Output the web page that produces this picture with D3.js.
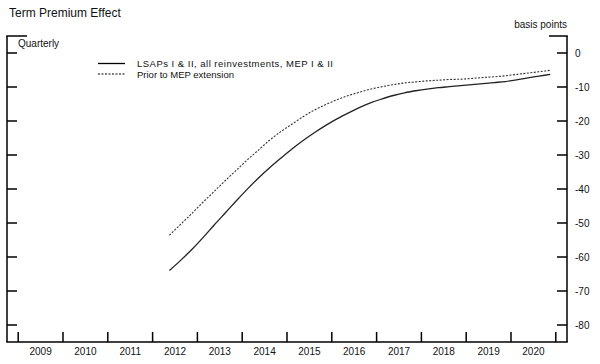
<!DOCTYPE html>
<html>
<head>
<meta charset="utf-8">
<script src="https://cdn.jsdelivr.net/npm/d3@7"></script>
<style>
    body { margin: 0; background: #fff; }
    text { font-family: "Liberation Sans", Arial, sans-serif; fill: #111; }
</style>
</head>
<body>
<script>
// quarterly dates plotted at mid-quarter, 2012Q2 to 2020Q4
var quarters = [
    2012.375, 2012.625, 2012.875,
    2013.125, 2013.375, 2013.625, 2013.875,
    2014.125, 2014.375, 2014.625, 2014.875,
    2015.125, 2015.375, 2015.625, 2015.875,
    2016.125, 2016.375, 2016.625, 2016.875,
    2017.125, 2017.375, 2017.625, 2017.875,
    2018.125, 2018.375, 2018.625, 2018.875,
    2019.125, 2019.375, 2019.625, 2019.875,
    2020.125, 2020.375, 2020.625, 2020.875
]
// LSAPs I & II, all reinvestments, MEP I & II
var lsapValues = [
    -64.0, -61.0, -57.8,
    -54.3, -50.6, -47.0, -43.4,
    -39.9, -36.6, -33.6, -30.8,
    -28.1, -25.6, -23.3, -21.2,
    -19.3, -17.6, -16.0, -14.6,
    -13.5, -12.5, -11.7, -11.1,
    -10.6, -10.2, -9.9, -9.6,
    -9.3, -9.0, -8.7, -8.4,
    -7.9, -7.3, -6.8, -6.3
]
// Prior to MEP extension
var priorValues = [
    -53.6, -50.4, -47.2,
    -43.9, -40.7, -37.5, -34.4,
    -31.3, -28.4, -25.5, -23.0,
    -20.8, -18.6, -16.7, -15.1,
    -13.7, -12.5, -11.5, -10.6,
    -9.9, -9.3, -8.8, -8.5,
    -8.2, -8.0, -7.8, -7.7,
    -7.5, -7.2, -7.0, -6.7,
    -6.3, -5.9, -5.5, -5.1
]
var yearLabels = [2009, 2010, 2011, 2012, 2013, 2014, 2015, 2016, 2017, 2018, 2019, 2020]
var yTicks = [0, -10, -20, -30, -40, -50, -60, -70, -80]
var seriesNames = ['LSAPs I & II, all reinvestments, MEP I & II', 'Prior to MEP extension']

function main() {
    var svgWidth = 600, svgHeight = 364
    var left = 7, right = 567, top = 36, bottom = 342

    var svg = d3.select('body').append('svg')
                .attr('width', svgWidth)
                .attr('height', svgHeight)

    var xScale = d3.scaleLinear().domain([2008.75, 2021.25]).range([left, right])
    var yScale = d3.scaleLinear().domain([5, -85]).range([top, bottom])

    // title and notes
    svg.append('text').attr('x', 9).attr('y', 17).attr('font-size', '12px')
        .text('Term Premium Effect')
    svg.append('text').attr('x', 18).attr('y', 47).attr('font-size', '10px')
        .text('Quarterly')
    svg.append('text').attr('x', right).attr('y', 28).attr('font-size', '10px')
        .attr('text-anchor', 'end')
        .text('basis points')

    var frame = svg.append('g').attr('stroke', '#000').attr('stroke-width', 1.5)
    // left, right, bottom edges and the short top corners
    frame.append('line').attr('x1', left).attr('x2', left).attr('y1', top).attr('y2', bottom)
    frame.append('line').attr('x1', right).attr('x2', right).attr('y1', top).attr('y2', bottom)
    frame.append('line').attr('x1', left - 0.75).attr('x2', right + 0.75).attr('y1', bottom).attr('y2', bottom)
    frame.append('line').attr('x1', left - 0.75).attr('x2', left + 20).attr('y1', top).attr('y2', top)
    frame.append('line').attr('x1', right - 18).attr('x2', right + 0.75).attr('y1', top).attr('y2', top)

    // y ticks on both sides, pointing inward
    yTicks.forEach(function(v) {
        frame.append('line').attr('x1', left).attr('x2', left + 10)
            .attr('y1', yScale(v)).attr('y2', yScale(v))
        frame.append('line').attr('x1', right - 10).attr('x2', right)
            .attr('y1', yScale(v)).attr('y2', yScale(v))
        svg.append('text').attr('x', right + 8).attr('y', yScale(v) + 3.5)
            .attr('font-size', '10px')
            .text(v)
    })

    // x ticks at year boundaries, labels centred in the year
    d3.range(2009, 2022).forEach(function(yr) {
        frame.append('line').attr('x1', xScale(yr)).attr('x2', xScale(yr))
            .attr('y1', bottom - 10).attr('y2', bottom)
    })
    yearLabels.forEach(function(yr) {
        svg.append('text').attr('x', xScale(yr + 0.5)).attr('y', 355)
            .attr('font-size', '10px').attr('text-anchor', 'middle')
            .text(yr)
    })

    var line = d3.line()
        .x(function(d) { return xScale(d[0]) })
        .y(function(d) { return yScale(d[1]) })
        .curve(d3.curveMonotoneX)

    svg.append('path')
        .datum(d3.zip(quarters, priorValues))
        .attr('fill', 'none').attr('stroke', '#333').attr('stroke-width', 1.1)
        .attr('stroke-dasharray', '2,1.5')
        .attr('d', line)
    svg.append('path')
        .datum(d3.zip(quarters, lsapValues))
        .attr('fill', 'none').attr('stroke', '#222').attr('stroke-width', 1.3)
        .attr('d', line)

    // legend
    var legend = svg.append('g')
    legend.append('line').attr('x1', 98).attr('x2', 125).attr('y1', 63.5).attr('y2', 63.5)
        .attr('stroke', '#000').attr('stroke-width', 1.3)
    legend.append('line').attr('x1', 98).attr('x2', 125).attr('y1', 74).attr('y2', 74)
        .attr('stroke', '#000').attr('stroke-width', 1.1).attr('stroke-dasharray', '2,1.5')
    legend.append('text').attr('x', 137).attr('y', 66.5).attr('font-size', '9.5px')
        .attr('textLength', 196).text(seriesNames[0])
    legend.append('text').attr('x', 137).attr('y', 77.5).attr('font-size', '9.5px').text(seriesNames[1])
}

main()
</script>
</body>
</html>
